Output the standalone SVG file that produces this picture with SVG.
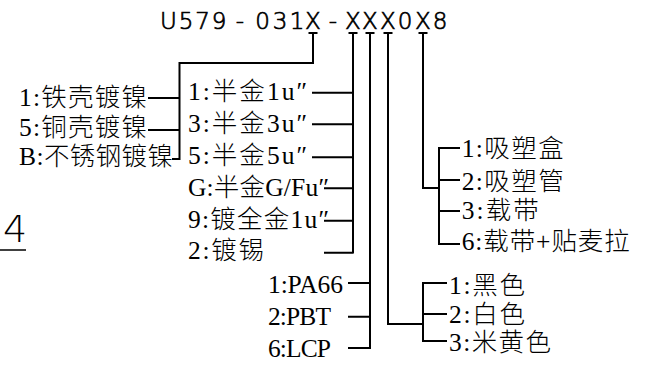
<svg xmlns="http://www.w3.org/2000/svg" width="651" height="366" viewBox="0 0 651 366">
<style>
.t{font-family:"Liberation Serif","Noto Sans CJK SC",serif;font-size:25.5px;font-weight:300;fill:#000}
.ttl{font-family:"DejaVu Sans",sans-serif;font-weight:200;font-size:23px;fill:#000;stroke:#000;stroke-width:0.7}
.c{fill:none;stroke:#000;stroke-width:2;stroke-linejoin:miter}
</style>
<rect width="651" height="366" fill="#fff"/>
<g id="title">
<text class="ttl" text-anchor="middle" y="28.5" x="168.3 186 202.5 219 240 262.5 280 297 313 333 353 370 388 405 423 440">U579-031X-XXX0X8</text>
</g>
<g id="mark4">
<text x="3" y="242" style="font-family:'DejaVu Sans',sans-serif;font-weight:200;font-size:38px;fill:#000">4</text>
<line x1="0" y1="250" x2="26" y2="250" stroke="#000" stroke-width="1.5"/>
</g>
<g id="connectors" class="c">
<path d="M308.5,33H317.5M313,33V63H179.5V160M148,98H179.5M148,130H179.5M172,159H179.5"/>
<path d="M348.5,33H357.5M353,33V253.5M312,92.7H353M312,124.3H353M312,157.3H353M324,188.3H353M324,220.7H353M324,252.7H353"/>
<path d="M365.5,33H374.5M370,33V349M348,283H370M348,316.7H370M348,348H370"/>
<path d="M383.5,33H392.5M388,33V324H423M447,283H423V341H447M423,314H447"/>
<path d="M418.5,33H427.5M423,33V188H439M460,148H439V244H460M439,180H460M439,211H460"/>
</g>
<g id="shell">
<g id="shell-1"><text class="t" x="19" y="105.5" textLength="128" lengthAdjust="spacing">1:铁壳镀镍</text></g>
<g id="shell-5"><text class="t" x="19" y="135.5" textLength="128" lengthAdjust="spacing">5:铜壳镀镍</text></g>
<g id="shell-B"><text class="t" x="19" y="165" textLength="154" lengthAdjust="spacing">B:不锈钢镀镍</text></g>
</g>
<g id="plating">
<g id="plating-1"><text class="t" x="188" y="100" textLength="119" lengthAdjust="spacing">1:半金1u″</text></g>
<g id="plating-3"><text class="t" x="188" y="131.8" textLength="119" lengthAdjust="spacing">3:半金3u″</text></g>
<g id="plating-5"><text class="t" x="188" y="163.7" textLength="119" lengthAdjust="spacing">5:半金5u″</text></g>
<g id="plating-G"><text class="t" x="188" y="195.6" textLength="141" lengthAdjust="spacing">G:半金G/Fu″</text></g>
<g id="plating-9"><text class="t" x="188" y="227.5" textLength="141" lengthAdjust="spacing">9:镀全金1u″</text></g>
<g id="plating-2"><text class="t" x="188" y="259.4" textLength="76" lengthAdjust="spacing">2:镀锡</text></g>
</g>
<g id="material">
<g id="material-1"><text class="t" x="268" y="292.5" textLength="75" lengthAdjust="spacing">1:PA66</text></g>
<g id="material-2"><text class="t" x="268" y="324.5" textLength="63" lengthAdjust="spacing">2:PBT</text></g>
<g id="material-6"><text class="t" x="268" y="356.5" textLength="63" lengthAdjust="spacing">6:LCP</text></g>
</g>
<g id="color">
<g id="color-1"><text class="t" x="449" y="293.5" textLength="76" lengthAdjust="spacing">1:黑色</text></g>
<g id="color-2"><text class="t" x="449" y="323" textLength="76" lengthAdjust="spacing">2:白色</text></g>
<g id="color-3"><text class="t" x="449" y="351" textLength="102" lengthAdjust="spacing">3:米黄色</text></g>
</g>
<g id="package">
<g id="package-1"><text class="t" x="461.7" y="157" textLength="102" lengthAdjust="spacing">1:吸塑盒</text></g>
<g id="package-2"><text class="t" x="461.7" y="190" textLength="102" lengthAdjust="spacing">2:吸塑管</text></g>
<g id="package-3"><text class="t" x="461.7" y="219" textLength="77" lengthAdjust="spacing">3:载带</text></g>
<g id="package-6"><text class="t" x="461.7" y="250" textLength="168" lengthAdjust="spacing">6:载带+贴麦拉</text></g>
</g>
</svg>
